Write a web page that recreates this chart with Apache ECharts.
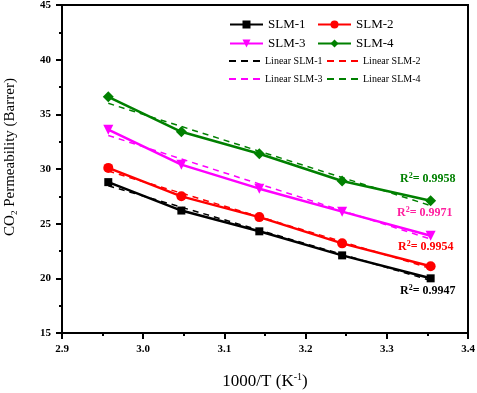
<!DOCTYPE html>
<html><head><meta charset="utf-8">
<script src="https://cdn.jsdelivr.net/npm/echarts@6/dist/echarts.min.js"></script>
<style>html,body{margin:0;padding:0;background:#fff}#c{width:477px;height:393px}</style>
</head><body><div id="c"></div>
<script>
var xVals = [2.957, 3.047, 3.143, 3.245, 3.354];
var slm1 = [28.8, 26.2, 24.3, 22.1, 20.0];
var slm2 = [30.1, 27.5, 25.6, 23.2, 21.1];
var slm3 = [33.6, 30.4, 28.2, 26.1, 23.9];
var slm4 = [36.6, 33.4, 31.4, 28.9, 27.1];
var fitX = [2.957, 3.354];
var fit1 = [28.47, 19.81];
var fit2 = [29.81, 20.91];
var fit3 = [33.07, 23.59];
var fit4 = [36.01, 26.65];
var r2Labels = ['0.9947', '0.9954', '0.9971', '0.9958'];
var names = ['SLM-1', 'SLM-2', 'SLM-3', 'SLM-4'];
var colors = ['#000000', '#ff0000', '#ff00ff', '#008000'];
var symbols = ['rect', 'circle', 'path://M0,0 L10,0 L5,10 Z', 'diamond'];
var symSizes = [8, 10, 10, 11];

function pairs(xs, ys) { return xs.map(function (x, i) { return [x, ys[i]]; }); }
var dataSets = [slm1, slm2, slm3, slm4];
var fits = [fit1, fit2, fit3, fit4];
var serif = '"Liberation Serif","Times New Roman",serif';

var series = [];
dataSets.forEach(function (d, i) {
  series.push({
    name: names[i], type: 'line', data: pairs(xVals, d),
    symbol: symbols[i], symbolSize: symSizes[i], z: 3,
    lineStyle: { color: colors[i], width: 2.5 },
    itemStyle: { color: colors[i] }
  });
});
fits.forEach(function (d, i) {
  series.push({
    name: 'Linear ' + names[i], type: 'line', data: pairs(fitX, d),
    symbol: 'none', z: 2,
    lineStyle: { color: colors[i], width: 1.5, type: [6, 5] },
    itemStyle: { color: colors[i] }
  });
});

var r2Colors = ['#000000', '#ff0000', '#ff1f9f', '#008000'];
var r2Pos = [[400, 292], [398, 248], [397, 214], [400, 180]];
var graphics = r2Labels.map(function (v, i) {
  return {
    type: 'text', left: r2Pos[i][0], top: r2Pos[i][1] - 8, z: 10,
    style: {
      text: '{b|R}{s|2}{b|= ' + v + '}',
      rich: {
        b: { fontFamily: serif, fontWeight: 'bold', fontSize: 12, fill: r2Colors[i], color: r2Colors[i] },
        s: { fontFamily: serif, fontWeight: 'bold', fontSize: 8, fill: r2Colors[i], color: r2Colors[i], verticalAlign: 'top', padding: [0, 0, 6, 0] }
      }
    }
  };
});

var dashIcon = 'path://M0,0 h7 v2 h-7 z M12,0 h7 v2 h-7 z M24,0 h7 v2 h-7 z';
var legendPos = [
  [names[0], 229, 18, 13, null], [names[1], 317, 18, 13, null],
  [names[2], 229, 37, 13, null], [names[3], 317, 37, 13, null],
  ['Linear ' + names[0], 229, 56, 10, dashIcon], ['Linear ' + names[1], 327, 56, 10, dashIcon],
  ['Linear ' + names[2], 229, 74, 10, dashIcon], ['Linear ' + names[3], 327, 74, 10, dashIcon]
];
var legends = legendPos.map(function (p) {
  var item = { name: p[0] };
  if (p[4]) { item.icon = p[4]; }
  return {
    data: [item], left: p[1], top: p[2], itemWidth: p[4] ? 31 : 33, itemHeight: p[4] ? 2 : 10,
    padding: 0, textStyle: { fontFamily: serif, fontSize: p[3], color: '#000' }
  };
});

var option = {
  animation: false,
  grid: { left: 62, right: 9, top: 5, bottom: 60, show: true, borderColor: '#000', borderWidth: 2,
    containLabel: false, outerBoundsMode: 'none' },
  legend: legends,
  xAxis: {
    type: 'value', min: 2.9, max: 3.4, interval: 0.1,
    axisLine: { lineStyle: { color: '#000', width: 2 } },
    axisTick: { show: true, inside: false, length: 6, lineStyle: { width: 2 } },
    minorTick: { show: true, splitNumber: 2, length: 3, lineStyle: { color: '#000', width: 2 } },
    splitLine: { show: false },
    axisLabel: { fontFamily: serif, fontWeight: 'bold', fontSize: 11, color: '#000', margin: 11,
      formatter: function (v) { return v.toFixed(1); } },
    name: '{a|1000/T (K}{s|-1}{a|)}', nameLocation: 'middle', nameGap: 39,
    nameTextStyle: { rich: {
      a: { fontFamily: serif, fontSize: 17, color: '#000' },
      s: { fontFamily: serif, fontSize: 10, color: '#000', verticalAlign: 'top', padding: [0, 0, 10, 0] }
    } }
  },
  yAxis: {
    type: 'value', min: 15, max: 45, interval: 5,
    axisLine: { show: true, lineStyle: { color: '#000', width: 2 } },
    axisTick: { show: true, inside: false, length: 6, lineStyle: { width: 2 } },
    minorTick: { show: true, splitNumber: 2, length: 3, lineStyle: { color: '#000', width: 2 } },
    splitLine: { show: false },
    axisLabel: { fontFamily: serif, fontWeight: 'bold', fontSize: 11, color: '#000', margin: 11 },
    name: '{a|CO}{s|2}{a| Permeability (Barrer)}', nameLocation: 'middle', nameGap: 43,
    nameTextStyle: { padding: [0, 0, 0, 24], rich: {
      a: { fontFamily: serif, fontSize: 15, color: '#000' },
      s: { fontFamily: serif, fontSize: 9, color: '#000', verticalAlign: 'bottom', padding: [8, 0, 0, 0] }
    } }
  },
  graphic: graphics,
  series: series
};
var chart = echarts.init(document.getElementById('c'));
chart.setOption(option);
</script></body></html>
